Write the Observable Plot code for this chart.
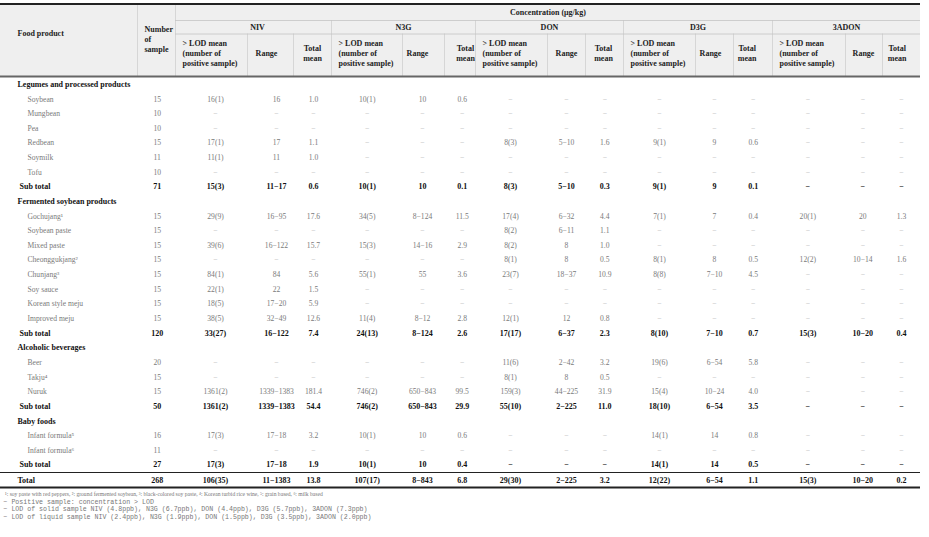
<!DOCTYPE html>
<html><head><meta charset="utf-8">
<script src="https://cdn.jsdelivr.net/npm/d3@7"></script>
<script src="https://cdn.jsdelivr.net/npm/@observablehq/plot@0.6"></script>
<style>body{margin:0;background:#fff}</style>
</head><body><div id="chart"></div>
<script>
// ---------- data ----------
const D = "\u2212";
const foods = ["Legumes and processed products","Soybean","Mungbean","Pea","Redbean","Soymilk","Tofu","Sub total",
  "Fermented soybean products","Gochujang\u00b9","Soybean paste","Mixed paste","Cheonggukjang\u00b2","Chunjang\u00b3","Soy sauce","Korean style meju","Improved meju","Sub total",
  "Alcoholic beverages","Beer","Takju\u2074","Nuruk","Sub total",
  "Baby foods","Infant formula\u2075","Infant formula\u2076","Sub total","Total"];
const rowKind = ["cat","item","item","item","item","item","item","sub",
  "cat","item","item","item","item","item","item","item","item","sub",
  "cat","item","item","item","sub",
  "cat","item","item","sub","total"];
const nSample = ["","15","10","10","15","11","10","71","","15","15","15","15","15","15","15","15","120","","20","15","15","50","","16","11","27","268"];

const nivLod   = ["","16(1)",D,D,"17(1)","11(1)",D,"15(3)","","29(9)",D,"39(6)",D,"84(1)","22(1)","18(5)","38(5)","33(27)","",D,D,"1361(2)","1361(2)","","17(3)",D,"17(3)","106(35)"];
const nivRange = ["","16",D,D,"17","11",D,"11"+D+"17","","16"+D+"95",D,"16"+D+"122",D,"84","22","17"+D+"20","32"+D+"49","16"+D+"122","",D,D,"1339"+D+"1383","1339"+D+"1383","","17"+D+"18",D,"17"+D+"18","11"+D+"1383"];
const nivTotal = ["","1.0",D,D,"1.1","1.0",D,"0.6","","17.6",D,"15.7",D,"5.6","1.5","5.9","12.6","7.4","",D,D,"181.4","54.4","","3.2",D,"1.9","13.8"];

const n3gLod   = ["","10(1)",D,D,D,D,D,"10(1)","","34(5)",D,"15(3)",D,"55(1)",D,D,"11(4)","24(13)","",D,D,"746(2)","746(2)","","10(1)",D,"10(1)","107(17)"];
const n3gRange = ["","10",D,D,D,D,D,"10","","8"+D+"124",D,"14"+D+"16",D,"55",D,D,"8"+D+"12","8"+D+"124","",D,D,"650"+D+"843","650"+D+"843","","10",D,"10","8"+D+"843"];
const n3gTotal = ["","0.6",D,D,D,D,D,"0.1","","11.5",D,"2.9",D,"3.6",D,D,"2.8","2.6","",D,D,"99.5","29.9","","0.6",D,"0.4","6.8"];

const donLod   = ["",D,D,D,"8(3)",D,D,"8(3)","","17(4)","8(2)","8(2)","8(1)","23(7)",D,D,"12(1)","17(17)","","11(6)","8(1)","159(3)","55(10)","",D,D,D,"29(30)"];
const donRange = ["",D,D,D,"5"+D+"10",D,D,"5"+D+"10","","6"+D+"32","6"+D+"11","8","8","18"+D+"37",D,D,"12","6"+D+"37","","2"+D+"42","8","44"+D+"225","2"+D+"225","",D,D,D,"2"+D+"225"];
const donTotal = ["",D,D,D,"1.6",D,D,"0.3","","4.4","1.1","1.0","0.5","10.9",D,D,"0.8","2.3","","3.2","0.5","31.9","11.0","",D,D,D,"3.2"];

const d3gLod   = ["",D,D,D,"9(1)",D,D,"9(1)","","7(1)",D,D,"8(1)","8(8)",D,D,D,"8(10)","","19(6)",D,"15(4)","18(10)","","14(1)",D,"14(1)","12(22)"];
const d3gRange = ["",D,D,D,"9",D,D,"9","","7",D,D,"8","7"+D+"10",D,D,D,"7"+D+"10","","6"+D+"54",D,"10"+D+"24","6"+D+"54","","14",D,"14","6"+D+"54"];
const d3gTotal = ["",D,D,D,"0.6",D,D,"0.1","","0.4",D,D,"0.5","4.5",D,D,D,"0.7","","5.8",D,"4.0","3.5","","0.8",D,"0.5","1.1"];

const adonLod   = ["",D,D,D,D,D,D,D,"","20(1)",D,D,"12(2)",D,D,D,D,"15(3)","",D,D,D,D,"",D,D,D,"15(3)"];
const adonRange = ["",D,D,D,D,D,D,D,"","20",D,D,"10"+D+"14",D,D,D,D,"10"+D+"20","",D,D,D,D,"",D,D,D,"10"+D+"20"];
const adonTotal = ["",D,D,D,D,D,D,D,"","1.3",D,D,"1.6",D,D,D,D,"0.4","",D,D,D,D,"",D,D,D,"0.2"];

const toxins = ["NIV","N3G","DON","D3G","3ADON"];
const toxinCols = [[nivLod,nivRange,nivTotal],[n3gLod,n3gRange,n3gTotal],[donLod,donRange,donTotal],[d3gLod,d3gRange,d3gTotal],[adonLod,adonRange,adonTotal]];

const headFood = "Food product";
const headNumber = ["Number", "of", "sample"];
const headConc = "Concentration (\u03bcg/kg)";
const headLod = ["> LOD mean", "(number of", "positive sample)"];
const headRange = "Range";
const headTotal = ["Total", "mean"];

const footnote1 = "\u00b9: soy paste with red peppers, \u00b2: ground fermented soybean, \u00b3: black-colored soy paste, \u2074: Korean turbid rice wine, \u2075: grain based, \u2076: milk based";
const notes = [
  "\u2212 Positive sample: concentration > LOD",
  "\u2212 LOD of solid sample NIV (4.8ppb), N3G (6.7ppb), DON (4.4ppb), D3G (5.7ppb), 3ADON (7.3ppb)",
  "\u2212 LOD of liquid sample NIV (2.4ppb), N3G (1.9ppb), DON (1.5ppb), D3G (3.5ppb), 3ADON (2.0ppb)"
];

// ---------- layout ----------
const L = {
  tableRight: 920, headTop: 3.5, headBottom: 76, concY: 12, concLine: 20, groupY: 27, groupLine: 33.5,
  lodY: [43, 53, 63], totalHeadY: [48, 58], numberY: [29, 39, 48.5], rangeY: 53, foodY: 33,
  bodyTop: 84, pitch: 14.63, totalY: 480, totalLineTop: 472, totalLineBottom: 487,
  nX: 156.7, foodX: 17, itemX: 27, subX: 19, numHeadX: 144,
  groupEdges: [175, 331, 475, 623, 772, 920],
  subEdges: [[247,293],[402,444],[547,585],[695,733],[845,882]],
  dataX: [[215,276,313],[366.7,422,461.7],[510,566,604.3],[659,714,752.7],[807.3,862.3,901]],
  rangeHeadX: [266,417,566,710,863],
  totalHeadX: [312,465,603,746.7,896.7],
  noteY: [494, 501.5, 508.7, 515.9]
};

const rowY = i => rowKind[i] === "total" ? L.totalY : L.bodyTop + i * L.pitch;

// cells
const labels = [];
const cells = [];
foods.forEach((f, i) => {
  const k = rowKind[i];
  const y = rowY(i);
  const x = k === "item" ? L.itemX : k === "sub" ? L.subX : L.foodX;
  labels.push({x, y, text: f, kind: k});
  if (k === "cat") return;
  cells.push({x: L.nX, y, text: nSample[i], kind: k, dash: false});
  toxinCols.forEach((cols, t) => cols.forEach((arr, c) => {
    cells.push({x: L.dataX[t][c], y, text: arr[i], kind: k, dash: arr[i] === D});
  }));
});

// header pieces (one text per line)
const headStart = [];
const headMid = [];
headStart.push({x: L.foodX, y: L.foodY, text: headFood});
headNumber.forEach((t, i) => headStart.push({x: L.numHeadX, y: L.numberY[i], text: t}));
headMid.push({x: (L.groupEdges[0] + L.tableRight) / 2, y: L.concY, text: headConc});
toxins.forEach((t, j) => {
  headMid.push({x: (L.groupEdges[j] + L.groupEdges[j+1]) / 2 + (j === 0 ? 4 : 0), y: L.groupY, text: t});
  headLod.forEach((s, i) => headStart.push({x: L.groupEdges[j] + 7, y: L.lodY[i], text: s}));
  headMid.push({x: L.rangeHeadX[j], y: L.rangeY, text: headRange});
  headTotal.forEach((s, i) => headMid.push({x: L.totalHeadX[j], y: L.totalHeadY[i], text: s}));
});

const vHead = [{x: 137, y1: L.headTop, y2: L.headBottom}, {x: L.groupEdges[0], y1: L.headTop, y2: L.headBottom}];
L.groupEdges.slice(1, -1).forEach(x => vHead.push({x, y1: L.concLine, y2: L.headBottom}));
L.subEdges.forEach(e => e.forEach(x => vHead.push({x, y1: L.groupLine, y2: L.headBottom})));

const hLines = [
  {y: L.concLine, x1: L.groupEdges[0], x2: L.tableRight, w: 0.8, c: "#c4c4c4"},
  {y: L.groupLine, x1: L.groupEdges[0], x2: L.tableRight, w: 0.8, c: "#c4c4c4"},
  {y: L.headTop, x1: 0, x2: L.tableRight, w: 2, c: "#222"},
  {y: L.headBottom, x1: 0, x2: L.tableRight, w: 2, c: "#666"},
  {y: L.totalLineTop, x1: 0, x2: L.tableRight, w: 1.2, c: "#222"},
  {y: L.totalLineBottom, x1: 0, x2: L.tableRight, w: 2, c: "#222"}
];

const footData = [{x: 4.5, y: L.noteY[0], text: footnote1}];
const noteData = notes.map((t, i) => ({x: 3, y: L.noteY[i + 1], text: t}));

const fontSerif = "'Liberation Serif', 'DejaVu Serif', serif";
const boldCells = cells.filter(d => d.kind === "sub" || d.kind === "total");
const chart = Plot.plot({
  width: 929, height: 537, margin: 0,
  x: {type: "identity"}, y: {type: "identity"},
  style: {fontFamily: fontSerif, background: "#fff"},
  marks: [
    Plot.rect([{x1: 0, x2: L.tableRight, y1: L.headTop, y2: L.headBottom}], {x1: "x1", x2: "x2", y1: "y1", y2: "y2", fill: "#efefef"}),
    Plot.ruleX(vHead, {x: "x", y1: "y1", y2: "y2", stroke: "#cfcfcf", strokeWidth: 0.8}),
    Plot.ruleY(hLines, {y: "y", x1: "x1", x2: "x2", stroke: "c", strokeWidth: "w"}),
    Plot.text(headStart, {x: "x", y: "y", text: "text", textAnchor: "start", fontSize: 8, fontWeight: "bold", fill: "#222"}),
    Plot.text(headMid, {x: "x", y: "y", text: "text", textAnchor: "middle", fontSize: 8, fontWeight: "bold", fill: "#222"}),
    // row labels
    Plot.text(labels.filter(d => d.kind !== "item"), {x: "x", y: "y", text: "text", textAnchor: "start", fontSize: 8, fontWeight: "bold", fill: "#111"}),
    Plot.text(labels.filter(d => d.kind === "item"), {x: "x", y: "y", text: "text", textAnchor: "start", fontSize: 7.6, fill: "#7a7a7a"}),
    // item rows
    Plot.text(cells.filter(d => d.kind === "item" && !d.dash), {x: "x", y: "y", text: "text", textAnchor: "middle", fontSize: 7.6, fill: "#7a7a7a"}),
    Plot.text(cells.filter(d => d.kind === "item" && d.dash), {x: "x", y: "y", text: "text", textAnchor: "middle", fontSize: 7.6, fill: "#b0b0b0"}),
    // sub totals and total
    Plot.text(boldCells, {x: "x", y: "y", text: "text", textAnchor: "middle", fontSize: 8, fontWeight: "bold", fill: "#111"}),
    // footnotes
    Plot.text(footData, {x: "x", y: "y", text: "text", textAnchor: "start", fontSize: 5.6, fill: "#777"}),
    Plot.text(noteData, {x: "x", y: "y", text: "text", textAnchor: "start", fontSize: 6.6, fontFamily: "'Liberation Mono', 'DejaVu Sans Mono', monospace", fill: "#777"})
  ]
});
// copy each group's text-anchor onto its texts (same rendering, explicit per element)
d3.select(chart).selectAll("g[text-anchor]").each(function() {
  const a = this.getAttribute("text-anchor");
  d3.select(this).selectAll("text").attr("text-anchor", a);
});
document.getElementById("chart").appendChild(chart);
</script>
</body></html>
